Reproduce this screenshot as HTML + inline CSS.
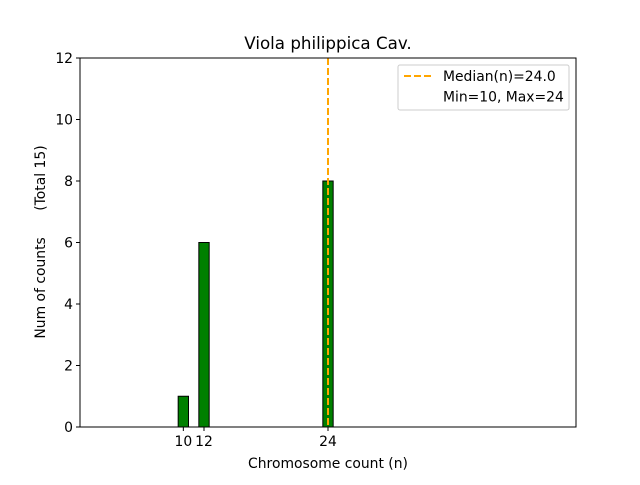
<!DOCTYPE html>
<html><head><meta charset="utf-8"><style>
body{margin:0;background:#fff;}
svg{font-family:"DejaVu Sans","Liberation Sans",sans-serif;}
</style></head><body>
<svg id="chart" width="640" height="480" xmlns="http://www.w3.org/2000/svg">
<rect width="640" height="480" fill="#fff"/>
<text x="328" y="49" font-size="16.7" text-anchor="middle">Viola philippica Cav.</text>
<g id="marks"></g>
<rect x="80" y="58" width="496" height="369" fill="none" stroke="#000" stroke-width="1"/>
<g id="axes"></g>
<text x="328" y="468" font-size="13.9" text-anchor="middle">Chromosome count (n)</text>
<text transform="translate(45,242) rotate(-90)" font-size="13.9" text-anchor="middle" style="white-space:pre" xml:space="preserve">Num of counts      (Total 15)</text>
<g>
<rect x="398" y="65" width="171" height="45" rx="2" fill="#fff" stroke="#ccc"/>
<line x1="404" y1="76" x2="432" y2="76" stroke="orange" stroke-width="2" stroke-dasharray="7,3"/>
<text x="443" y="81" font-size="13.9">Median(n)=24.0</text>
<text x="443" y="101.5" font-size="13.9">Min=10, Max=24</text>
</g>
</svg>
<script>
const categories=[10,12,24];
const counts=[1,6,8];
const xTicks=[10,12,24];
const yTicks=[0,2,4,6,8,10,12];
const median=24;
const ns="http://www.w3.org/2000/svg";
const X=v=>80+(v/48)*496;
const Y=v=>427-(v/12)*369;
const marks=document.getElementById('marks'),axes=document.getElementById('axes');
function mk(t,a,p){const e=document.createElementNS(ns,t);for(const k in a)e.setAttribute(k,a[k]);p.appendChild(e);return e;}
const base=mk('line',{x1:X(4.7),x2:X(27.5),y1:427,y2:427,stroke:'#bbb','stroke-width':1},marks);


categories.forEach((c,i)=>{
 const b=mk('rect',{x:X(c-0.5),y:Y(counts[i]),width:X(1)-X(0),height:427-Y(counts[i]),fill:'green',stroke:'#000','stroke-width':1},marks);
 
 
});
const m=mk('line',{x1:X(median),x2:X(median),y1:58,y2:427,stroke:'orange','stroke-width':2,'stroke-dasharray':'7,3'},marks);


xTicks.forEach(t=>{
 mk('line',{x1:X(t),x2:X(t),y1:427,y2:431,stroke:'#000'},axes);
 const tx=mk('text',{x:X(t),y:446,'font-size':13.9,'text-anchor':'middle'},axes);tx.textContent=t;
 
 
});
yTicks.forEach(t=>{
 mk('line',{x1:76,x2:80,y1:Y(t),y2:Y(t),stroke:'#000'},axes);
 const tx=mk('text',{x:73,y:Y(t)+5,'font-size':13.9,'text-anchor':'end'},axes);tx.textContent=t;
 
 
});
</script>
</body></html>
